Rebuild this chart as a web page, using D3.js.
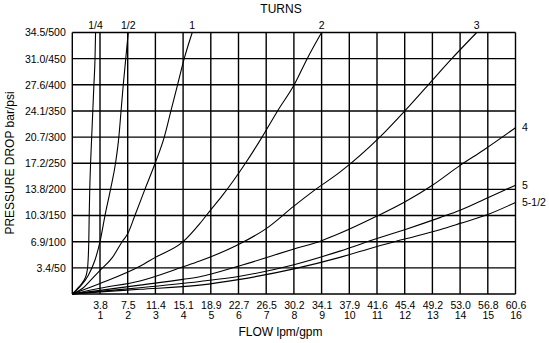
<!DOCTYPE html>
<html>
<head>
<meta charset="utf-8">
<script src="https://cdn.jsdelivr.net/npm/d3@7/dist/d3.min.js"></script>
<style>
  html, body { margin: 0; padding: 0; background: #fff; }
  svg { display: block; font-family: "Liberation Sans", Arial, Helvetica, sans-serif; }
</style>
</head>
<body>
<div id="chart"></div>
<script>
// Flow (gpm) vs pressure drop (psi) for each needle-valve setting, in turns open.
const gpmTicks = [1, 2, 3, 4, 5, 6, 7, 8, 9, 10, 11, 12, 13, 14, 15, 16];
const lpmLabels = ["3.8", "7.5", "11.4", "15.1", "18.9", "22.7", "26.5", "30.2",
                   "34.1", "37.9", "41.6", "45.4", "49.2", "53.0", "56.8", "60.6"];
const psiTicks = [50, 100, 150, 200, 250, 300, 350, 400, 450, 500];
const barLabels = ["3.4", "6.9", "10.3", "13.8", "17.2", "20.7", "24.1", "27.6", "31.0", "34.5"];

// [gpm, psi] pairs
const turnsQuarter = [[0, 0], [0.16, 9], [0.34, 20], [0.46, 30], [0.52, 40], [0.56, 55], [0.58, 75],
  [0.595, 100], [0.61, 150], [0.63, 200], [0.66, 250], [0.70, 300], [0.74, 350], [0.78, 400],
  [0.82, 450], [0.84, 500]];
const turnsHalf = [[0, 0], [0.28, 14], [0.58, 36], [0.82, 65], [1.0, 100], [1.18, 150], [1.38, 200],
  [1.56, 250], [1.68, 300], [1.76, 350], [1.84, 400], [1.93, 450], [2.02, 500]];
const turnsOne = [[0, 0], [0.4, 12], [0.64, 25], [1.0, 45], [1.45, 70], [1.8, 100], [2.0, 115],
  [2.26, 150], [2.62, 200], [2.99, 250], [3.32, 300], [3.56, 350], [3.8, 400], [4.04, 450], [4.33, 500]];
const turnsTwo = [[0, 0], [1.0, 20], [2.44, 53], [3.0, 70], [4.0, 100], [4.61, 135], [4.97, 159],
  [5.4, 187], [6.25, 250], [6.85, 300], [7.41, 350], [8.01, 400], [8.48, 450], [9.0, 500]];
const turnsThree = [[0, 0], [1.0, 11], [2.44, 25], [4.0, 52], [4.6, 63], [6.05, 96], [7.0, 125],
  [8.0, 168], [8.76, 199], [9.66, 233], [11.1, 300], [12.0, 350], [12.85, 400], [13.7, 450], [14.6, 500]];
const turnsFour = [[0, 0], [1.0, 7], [2.44, 17], [4.0, 28], [4.6, 33], [6.05, 54], [8.0, 86],
  [9.0, 102], [9.66, 116], [11.0, 149], [12.0, 176], [13.0, 208], [14.0, 246], [14.84, 275], [16.0, 318]];
const turnsFive = [[0, 0], [1.0, 5], [2.44, 12], [4.6, 24], [6.05, 34], [8.0, 56], [9.66, 82],
  [11.0, 106], [12.0, 123], [13.27, 146], [14.0, 160], [15.0, 184], [16.0, 208]];
const turnsFiveHalf = [[0, 0], [1.0, 4], [2.44, 9], [4.6, 17], [6.05, 28], [8.0, 48], [9.66, 70],
  [11.0, 91], [12.0, 105], [13.27, 123], [14.0, 135], [15.0, 152], [16.0, 175]];

const series = [
  { label: "1/4", points: turnsQuarter },
  { label: "1/2", points: turnsHalf },
  { label: "1", points: turnsOne },
  { label: "2", points: turnsTwo },
  { label: "3", points: turnsThree },
  { label: "4", points: turnsFour },
  { label: "5", points: turnsFive },
  { label: "5-1/2", points: turnsFiveHalf }
];

const W = 549, H = 343;
const plot = { left: 72.3, right: 515.5, top: 32.5, bottom: 294 };

const svg = d3.select("#chart").append("svg")
  .attr("width", W).attr("height", H);

const x = d3.scaleLinear().domain([0, 16]).range([plot.left, plot.right]);
const y = d3.scaleLinear().domain([0, 500]).range([plot.bottom, plot.top]);

// grid and frame
const grid = svg.append("g").attr("stroke", "#000").attr("stroke-width", 1.4).attr("fill", "none");
grid.selectAll("line.v").data([0].concat(gpmTicks)).join("line")
  .attr("x1", d => x(d)).attr("x2", d => x(d))
  .attr("y1", y(0)).attr("y2", y(500));
grid.selectAll("line.h").data([0].concat(psiTicks)).join("line")
  .attr("x1", x(0)).attr("x2", x(16))
  .attr("y1", d => y(d)).attr("y2", d => y(d));

// x axis: two label rows (lpm over gpm), no domain line
const fontSize = 10.5;
const xAxisLpm = d3.axisBottom(x).tickValues(gpmTicks).tickSize(0)
  .tickFormat((d, i) => lpmLabels[i]);
const xAxisGpm = d3.axisBottom(x).tickValues(gpmTicks).tickSize(0)
  .tickFormat(d => String(d));
const gx1 = svg.append("g").attr("transform", `translate(0,${plot.bottom})`).call(xAxisLpm);
const gx2 = svg.append("g").attr("transform", `translate(0,${plot.bottom + 10.5})`).call(xAxisGpm);
[gx1, gx2].forEach(g => {
  g.select(".domain").remove();
  g.selectAll("text").attr("dy", null).attr("y", 14.5)
    .attr("font-size", fontSize).attr("fill", "#000")
    .attr("font-family", "Liberation Sans, Arial, sans-serif");
});

// y axis: bar/psi labels
const yAxis = d3.axisLeft(y).tickValues(psiTicks).tickSize(0)
  .tickFormat((d, i) => barLabels[i] + "/" + d);
const gy = svg.append("g").attr("transform", `translate(${plot.left},0)`).call(yAxis);
gy.select(".domain").remove();
gy.selectAll("text").attr("x", -6.5).attr("font-size", fontSize).attr("fill", "#000")
  .attr("font-family", "Liberation Sans, Arial, sans-serif");

// curves
const line = d3.line().x(d => x(d[0])).y(d => y(d[1])).curve(d3.curveMonotoneX);
svg.append("g").attr("fill", "none").attr("stroke", "#000").attr("stroke-width", 1.1)
  .selectAll("path").data(series).join("path")
  .attr("d", d => line(d.points));

// curve labels: above the frame when a curve reaches the top, right of the frame otherwise
const labels = svg.append("g").attr("font-size", fontSize).attr("fill", "#000");
series.forEach(s => {
  const last = s.points[s.points.length - 1];
  if (last[1] >= 500) {
    labels.append("text").attr("x", x(last[0])).attr("y", plot.top - 4)
      .attr("text-anchor", "middle").text(s.label);
  } else {
    labels.append("text").attr("x", x(16) + 6.5).attr("y", y(last[1]))
      .attr("dy", "0.35em").attr("text-anchor", "start").text(s.label);
  }
});

// titles
svg.append("text").attr("x", 281).attr("y", 13).attr("text-anchor", "middle")
  .attr("font-size", 12).text("TURNS");
svg.append("text").attr("x", 280.5).attr("y", 336).attr("text-anchor", "middle")
  .attr("font-size", 12).text("FLOW lpm/gpm");
svg.append("text").attr("transform", "translate(13.5,163) rotate(-90)")
  .attr("text-anchor", "middle").attr("font-size", 12).text("PRESSURE DROP bar/psi");
</script>
</body>
</html>
